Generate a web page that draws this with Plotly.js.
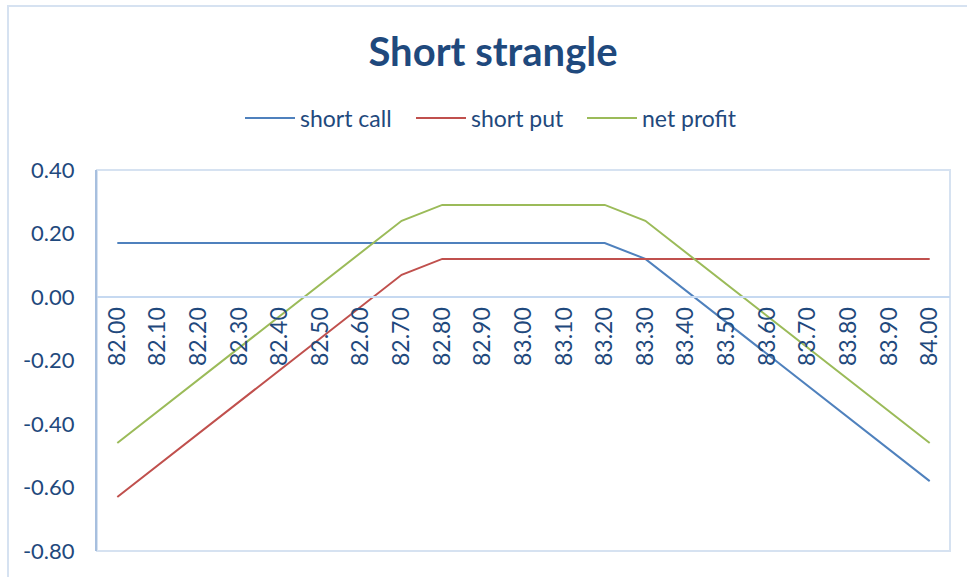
<!DOCTYPE html>
<html>
<head>
<meta charset="utf-8">
<script src="https://cdn.plot.ly/plotly-3.0.1.min.js"></script>
<style>
  html, body { margin: 0; padding: 0; width: 967px; height: 577px; overflow: hidden; background: #ffffff; }
  #frame { position: absolute; left: 7px; top: 5px; width: 990px; height: 600px; border: 2px solid #D6E2F1; box-sizing: border-box; }
  #chart { position: absolute; left: 0; top: 0; width: 967px; height: 577px; }
</style>
</head>
<body>
<div id="frame"></div>
<div id="chart"></div>
<script>
const prices = ["82.00","82.10","82.20","82.30","82.40","82.50","82.60","82.70","82.80","82.90","83.00",
                "83.10","83.20","83.30","83.40","83.50","83.60","83.70","83.80","83.90","84.00"];
const shortCall = [0.17,0.17,0.17,0.17,0.17,0.17,0.17,0.17,0.17,0.17,0.17,
                   0.17,0.17,0.12,0.02,-0.08,-0.18,-0.28,-0.38,-0.48,-0.58];
const shortPut = [-0.63,-0.53,-0.43,-0.33,-0.23,-0.13,-0.03,0.07,0.12,0.12,0.12,
                  0.12,0.12,0.12,0.12,0.12,0.12,0.12,0.12,0.12,0.12];
const netProfit = [-0.46,-0.36,-0.26,-0.16,-0.06,0.04,0.14,0.24,0.29,0.29,0.29,
                   0.29,0.29,0.24,0.14,0.04,-0.06,-0.16,-0.26,-0.36,-0.46];
const yTicks = [-0.8,-0.6,-0.4,-0.2,0,0.2,0.4];
const yTickLabels = ["-0.80","-0.60","-0.40","-0.20","0.00","0.20","0.40"];

const textColor = "#1F497D";
const font = "Lato, 'Open Sans', sans-serif";

const traces = [
  {x: prices, y: shortCall, name: "short call", type: "scatter", mode: "lines",
   line: {color: "#4F81BD", width: 2}},
  {x: prices, y: shortPut, name: "short put", type: "scatter", mode: "lines",
   line: {color: "#C0504D", width: 2}},
  {x: prices, y: netProfit, name: "net profit", type: "scatter", mode: "lines",
   line: {color: "#9BBB59", width: 2}}
];

const layout = {
  width: 967, height: 577,
  margin: {l: 97, r: 17, t: 170, b: 26, pad: 0},
  paper_bgcolor: "rgba(0,0,0,0)",
  plot_bgcolor: "rgba(0,0,0,0)",
  font: {family: font, color: textColor, size: 22},
  title: {text: "<b>Short strangle</b>", font: {family: font, size: 40, color: textColor},
          x: 493/967, xref: "container", xanchor: "center", y: 1 - 52/577, yref: "container", yanchor: "middle"},
  showlegend: true,
  legend: {orientation: "h", x: 240/967, xref: "container", xanchor: "left",
           y: 1 - 118/577, yref: "container", yanchor: "middle",
           font: {family: font, size: 23, color: textColor},
           itemwidth: 50, entrywidth: 106, tracegroupgap: 0, bgcolor: "rgba(0,0,0,0)"},
  xaxis: {type: "category", categoryorder: "array", categoryarray: prices,
          range: [-0.5, prices.length - 0.5], fixedrange: true,
          anchor: "free", position: 0.8/1.2,
          showline: true, linecolor: "#C6D9F1", linewidth: 2,
          showgrid: false, zeroline: false, ticks: "",
          tickangle: -90, tickfont: {family: font, size: 23, color: textColor}},
  yaxis: {range: [-0.8, 0.4], tickvals: yTicks, ticktext: yTickLabels,
          showline: true, linecolor: "#A7BFDE", linewidth: 2,
          showgrid: false, zeroline: false, ticks: "",
          ticklabelstandoff: 16,
          tickfont: {family: font, size: 22, color: textColor}},
  shapes: [
    {type: "rect", xref: "paper", yref: "paper", x0: 0, x1: 1, y0: 0, y1: 1,
     line: {color: "#D6E2F1", width: 2}, layer: "below"}
  ]
};

Plotly.newPlot("chart", traces, layout, {displayModeBar: false, staticPlot: true});
</script>
</body>
</html>
